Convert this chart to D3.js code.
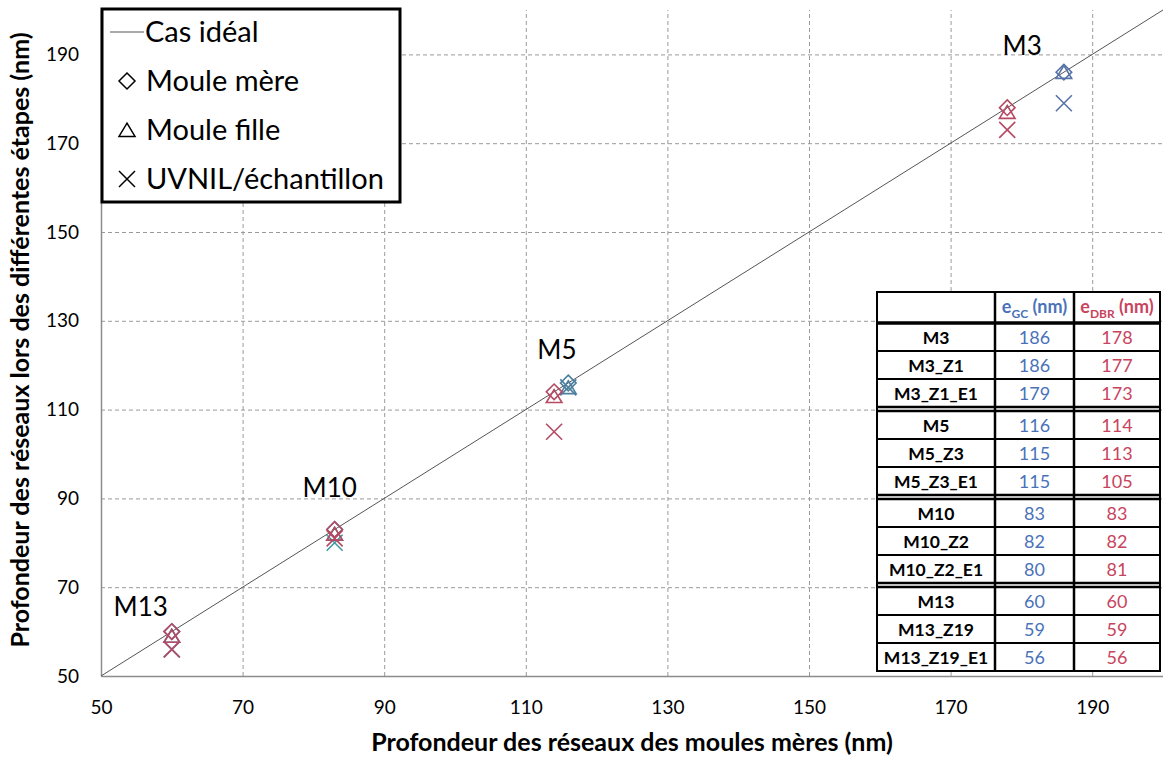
<!DOCTYPE html>
<html>
<head>
<meta charset="utf-8">
<script src="https://cdn.jsdelivr.net/npm/d3@7"></script>
<style>
  body { margin: 0; background: #fff; }
  svg { font-family: Lato, "Open Sans", sans-serif; }
</style>
</head>
<body>
<svg id="chart" width="1163" height="758"></svg>
<script>
// data
const groups = ["M3", "M5", "M10", "M13"];
const gcValues = [[186, 186, 179], [116, 115, 115], [83, 82, 80], [60, 59, 56]];
const dbrValues = [[178, 177, 173], [114, 113, 105], [83, 82, 81], [60, 59, 56]];
const steps = ["Moule mère", "Moule fille", "UVNIL/échantillon"];
const zoneNames = ["Z1", "Z3", "Z2", "Z19"];
const labelPos = [[180.1, 192], [114.4, 123.4], [82.3, 92.3], [55.6, 65.5]];
const ticks = [50, 70, 90, 110, 130, 150, 170, 190];

const gcColors = ["#5874a6", "#4d7f9f", "#3f98a3", "#4a7fa8"];
const dbrColor = "#b54a63";

let svg = d3.select("#chart");

let x = d3.scaleLinear().domain([50, 200]).range([101, 1163]);
let y = d3.scaleLinear().domain([50, 200]).range([676, 10]);

// marker shapes, drawn round (0,0)
function markerPath(kind, s) {
  if (kind === 0) return `M0,${-s}L${s},0L0,${s}L${-s},0Z`;
  if (kind === 1) return `M0,${-s * 0.85}L${s},${s * 0.8}L${-s},${s * 0.8}Z`;
  return `M${-s},${-s}L${s},${s}M${s},${-s}L${-s},${s}`;
}

// gridlines
svg.append("g")
  .attr("transform", `translate(0,${y(50)})`)
  .call(d3.axisBottom(x).tickValues(ticks.slice(1)).tickSize(-(y(50) - y(200))).tickFormat(""))
  .call(g => g.select(".domain").remove())
  .call(g => g.selectAll("line").attr("stroke", "#9a9a9a").attr("stroke-dasharray", "4,3"));

svg.append("g")
  .attr("transform", `translate(${x(50)},0)`)
  .call(d3.axisLeft(y).tickValues(ticks.slice(1)).tickSize(-(x(200) - x(50))).tickFormat(""))
  .call(g => g.select(".domain").remove())
  .call(g => g.selectAll("line").attr("stroke", "#9a9a9a").attr("stroke-dasharray", "4,3"));

// axes
svg.append("g")
  .attr("transform", `translate(0,${y(50)})`)
  .call(d3.axisBottom(x).tickValues(ticks).tickSize(0).tickPadding(25))
  .call(g => g.select(".domain").attr("stroke", "#8c8c8c").attr("stroke-width", 1.5))
  .call(g => g.selectAll("text").attr("font-size", 19).attr("fill", "#000").attr("font-family", "Lato"));

svg.append("g")
  .attr("transform", `translate(${x(50)},0)`)
  .call(d3.axisLeft(y).tickValues(ticks).tickSize(0).tickPadding(22))
  .call(g => g.select(".domain").attr("stroke", "#8c8c8c").attr("stroke-width", 1.5))
  .call(g => g.selectAll("text").attr("font-size", 19).attr("fill", "#000").attr("font-family", "Lato"));

// axis titles
svg.append("text")
  .attr("x", 632).attr("y", 751)
  .attr("text-anchor", "middle")
  .attr("font-size", 25).attr("font-weight", "bold")
  .text("Profondeur des réseaux des moules mères (nm)");

svg.append("text")
  .attr("transform", "translate(29,340) rotate(-90)")
  .attr("text-anchor", "middle")
  .attr("font-size", 25).attr("font-weight", "bold")
  .text("Profondeur des réseaux lors des différentes étapes (nm)");

// ideal case
svg.append("line")
  .attr("x1", x(50)).attr("y1", y(50))
  .attr("x2", x(200)).attr("y2", y(200))
  .attr("stroke", "#555").attr("stroke-width", 1);

// points: x is the mother mould value, y each step
let points = [];
groups.forEach((g, i) => {
  gcValues[i].forEach((v, k) => points.push({ x: gcValues[i][0], y: v, kind: k, color: gcColors[i] }));
});
groups.forEach((g, i) => {
  dbrValues[i].forEach((v, k) => points.push({ x: dbrValues[i][0], y: v, kind: k, color: dbrColor }));
});

svg.append("g").selectAll("path")
  .data(points)
  .enter()
  .append("path")
  .attr("transform", d => `translate(${x(d.x)},${y(d.y)})`)
  .attr("d", d => markerPath(d.kind, d.kind === 2 ? 8 : 7.8))
  .attr("fill", "none")
  .attr("stroke", d => d.color)
  .attr("stroke-width", 1.6);

// group labels
svg.append("g").selectAll("text")
  .data(groups)
  .enter()
  .append("text")
  .attr("x", (d, i) => x(labelPos[i][0]))
  .attr("y", (d, i) => y(labelPos[i][1]))
  .attr("dy", "0.35em")
  .attr("text-anchor", "middle")
  .attr("font-size", 26)
  .text(d => d);

// legend
let legend = svg.append("g");
legend.append("rect")
  .attr("x", 102).attr("y", 9).attr("width", 298).attr("height", 193)
  .attr("fill", "#fff").attr("stroke", "#000").attr("stroke-width", 3);

legend.append("line")
  .attr("x1", 110).attr("x2", 144).attr("y1", 32).attr("y2", 32)
  .attr("stroke", "#555").attr("stroke-width", 1);
legend.append("text")
  .attr("x", 145).attr("y", 32).attr("dy", "0.35em")
  .attr("font-size", 29).text("Cas idéal");

steps.forEach((s, k) => {
  let cy = 81 + k * 49;
  legend.append("path")
    .attr("transform", `translate(127,${cy})`)
    .attr("d", markerPath(k, 8))
    .attr("fill", "none").attr("stroke", "#000").attr("stroke-width", 1.5);
  legend.append("text")
    .attr("x", 146).attr("y", cy).attr("dy", "0.35em")
    .attr("font-size", 29).text(s);
});

// table
let table = svg.append("g");
let colX = [877, 995, 1074, 1160];
let tableTop = 292, headH = 31, rowH = 28, gap = 4;

let rows = [];
let yy = tableTop + headH;
groups.forEach((g, i) => {
  [0, 1, 2].forEach(k => {
    let name = g + (k > 0 ? "_" + zoneNames[i] : "") + (k > 1 ? "_E1" : "");
    rows.push({ name: name, gc: gcValues[i][k], dbr: dbrValues[i][k], y0: yy });
    yy += rowH;
  });
  if (i < groups.length - 1) yy += gap;
});
let tableBottom = yy;

table.append("rect")
  .attr("x", colX[0]).attr("y", tableTop)
  .attr("width", colX[3] - colX[0]).attr("height", tableBottom - tableTop)
  .attr("fill", "#fff").attr("stroke", "#000").attr("stroke-width", 2);

colX.slice(1, 3).forEach(cx => {
  table.append("line")
    .attr("x1", cx).attr("x2", cx).attr("y1", tableTop).attr("y2", tableBottom)
    .attr("stroke", "#000").attr("stroke-width", 2.5);
});

// header bottom
table.append("line")
  .attr("x1", colX[0]).attr("x2", colX[3]).attr("y1", tableTop + headH).attr("y2", tableTop + headH)
  .attr("stroke", "#000").attr("stroke-width", 3.5);

rows.forEach((r, j) => {
  if (j === 0) return;
  let prev = rows[j - 1];
  if (r.y0 - prev.y0 > rowH) {
    [prev.y0 + rowH, r.y0].forEach(ly => {
      table.append("line")
        .attr("x1", colX[0]).attr("x2", colX[3]).attr("y1", ly).attr("y2", ly)
        .attr("stroke", "#000").attr("stroke-width", 2.5);
    });
  } else {
    table.append("line")
      .attr("x1", colX[0]).attr("x2", colX[3]).attr("y1", r.y0).attr("y2", r.y0)
      .attr("stroke", "#000").attr("stroke-width", 2);
  }
});

let rowText = table.append("g").selectAll("g")
  .data(rows)
  .enter()
  .append("g")
  .attr("transform", d => `translate(0,${d.y0 + rowH / 2 + 1})`);

rowText.append("text")
  .attr("x", (colX[0] + colX[1]) / 2).attr("dy", "0.35em")
  .attr("text-anchor", "middle").attr("font-size", 17.5).attr("font-weight", "bold")
  .text(d => d.name);
rowText.append("text")
  .attr("x", (colX[1] + colX[2]) / 2).attr("dy", "0.35em")
  .attr("text-anchor", "middle").attr("font-size", 18).attr("fill", "#4a72b8")
  .text(d => d.gc);
rowText.append("text")
  .attr("x", (colX[2] + colX[3]) / 2).attr("dy", "0.35em")
  .attr("text-anchor", "middle").attr("font-size", 18).attr("fill", "#c8445e")
  .text(d => d.dbr);

// header cells
[["GC", "#4a72b8", 1], ["DBR", "#c8445e", 2]].forEach(h => {
  let t = table.append("text")
    .attr("x", (colX[h[2]] + colX[h[2] + 1]) / 2).attr("y", tableTop + headH / 2 - 1).attr("dy", "0.35em")
    .attr("text-anchor", "middle").attr("font-size", 18).attr("font-weight", "bold")
    .attr("fill", h[1]);
  t.append("tspan").text("e");
  t.append("tspan").attr("font-size", 12).attr("dy", 5).text(h[0]);
  t.append("tspan").attr("dy", -5).text(" (nm)");
});
</script>
</body>
</html>
